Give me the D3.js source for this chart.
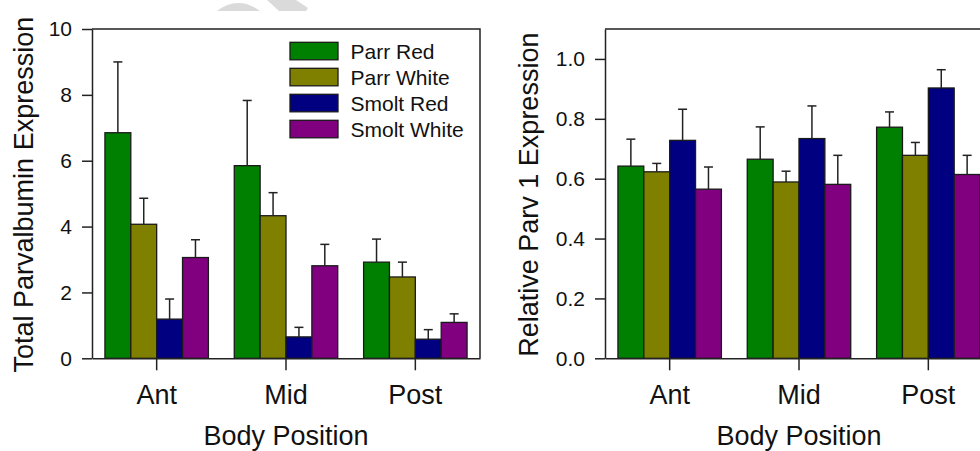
<!DOCTYPE html>
<html><head><meta charset="utf-8">
<script src="https://cdn.jsdelivr.net/npm/d3@7"></script>
<style>
body{margin:0;background:#fff}
text{font-family:"Liberation Sans",Arial,sans-serif;fill:#111}
</style>
</head><body>
<svg id="c" width="980" height="451"></svg>
<script>
// ---- data ----
const positions = ["Ant", "Mid", "Post"];
const groups = ["Parr Red", "Parr White", "Smolt Red", "Smolt White"];
const colors = ["#008000", "#808000", "#000080", "#800080"];

// Total parvalbumin expression (mean, SE) per position, per group
const totalMean = [[6.85, 4.07, 1.19, 3.06], [5.85, 4.33, 0.65, 2.81], [2.92, 2.47, 0.58, 1.09]];
const totalSE   = [[2.15, 0.79, 0.61, 0.54], [1.98, 0.70, 0.29, 0.65], [0.70, 0.45, 0.29, 0.26]];
const totalTicks = [0, 2, 4, 6, 8, 10];

// Relative Parv 1 expression
const parvMean = [[0.642, 0.623, 0.728, 0.565], [0.665, 0.589, 0.734, 0.581], [0.772, 0.678, 0.903, 0.614]];
const parvSE   = [[0.090, 0.028, 0.104, 0.074], [0.108, 0.036, 0.109, 0.097], [0.051, 0.043, 0.061, 0.064]];
const parvTicks = [0, 0.2, 0.4, 0.6, 0.8, 1.0];

const svg = d3.select("#c");

// faint watermark remnants at top
svg.append("path").attr("d", "M217,11 Q238,-5 260,11 Z").attr("fill", "#dadada");
svg.append("path").attr("d", "M267,0 L296,0 L308,8 L306,11 L279,11 Z").attr("fill", "#dadada");

function panel(ox, means, ses, yMax, ticks, fmt, title, titleX, legend) {
  const top = 29, bottom = 358.3, width = 388;
  const g = svg.append("g");
  const x0 = d3.scaleBand().domain(positions).range([ox, ox + width]).padding(0);
  const x1 = d3.scaleBand().domain(groups).range([x0.bandwidth() * 0.1, x0.bandwidth() * 0.9]).padding(0);
  const y = d3.scaleLinear().domain([0, yMax]).range([bottom, top]);

  const rows = [];
  positions.forEach((p, i) => groups.forEach((s, j) => rows.push({p, s, j, v: means[i][j], e: ses[i][j]})));

  g.selectAll("rect.bar").data(rows).join("rect")
    .attr("x", d => x0(d.p) + x1(d.s))
    .attr("width", x1.bandwidth())
    .attr("y", d => y(d.v))
    .attr("height", d => y(0) - y(d.v))
    .attr("fill", d => colors[d.j])
    .attr("stroke", "#1a1a1a").attr("stroke-width", 1.3);

  const cx = d => x0(d.p) + x1(d.s) + x1.bandwidth() / 2;
  g.selectAll("line.err").data(rows).join("line")
    .attr("x1", cx).attr("x2", cx)
    .attr("y1", d => y(d.v)).attr("y2", d => y(d.v + d.e))
    .attr("stroke", "#222").attr("stroke-width", 1.5);
  g.selectAll("line.cap").data(rows).join("line")
    .attr("x1", d => cx(d) - 4.5).attr("x2", d => cx(d) + 4.5)
    .attr("y1", d => y(d.v + d.e)).attr("y2", d => y(d.v + d.e))
    .attr("stroke", "#222").attr("stroke-width", 1.5);

  // frame (top & right)
  g.append("path")
    .attr("d", `M${ox},${top}H${ox + width}V${bottom}`)
    .attr("fill", "none").attr("stroke", "#222").attr("stroke-width", 1.5);

  const ya = g.append("g").attr("transform", `translate(${ox},0)`)
    .call(d3.axisLeft(y).tickValues(ticks).tickFormat(fmt).tickSize(10).tickSizeOuter(0).tickPadding(10));
  ya.select(".domain").attr("stroke", "#222").attr("stroke-width", 1.5);
  ya.selectAll(".tick line").attr("stroke", "#222").attr("stroke-width", 1.5);
  ya.selectAll(".tick text").style("font-size", "21px").style("font-family", "Liberation Sans, Arial, sans-serif").attr("fill", "#111");

  const xa = g.append("g").attr("transform", `translate(0,${bottom})`)
    .call(d3.axisBottom(x0).tickSize(12).tickSizeOuter(0).tickPadding(15));
  xa.select(".domain").attr("stroke", "#222").attr("stroke-width", 1.5);
  xa.selectAll(".tick line").attr("stroke", "#222").attr("stroke-width", 1.5);
  xa.selectAll(".tick text").style("font-size", "27px").style("font-family", "Liberation Sans, Arial, sans-serif").attr("fill", "#111");

  g.append("text").attr("x", ox + width / 2).attr("y", 445).attr("text-anchor", "middle")
    .style("font-size", "27px").text("Body Position");
  g.append("text").attr("transform", `translate(${titleX},${(top + bottom) / 2 + 1}) rotate(-90)`)
    .attr("text-anchor", "middle").style("font-size", "27px").text(title);

  if (legend) {
    const lg = g.append("g");
    groups.forEach((s, j) => {
      lg.append("rect").attr("x", 290).attr("y", 42.3 + j * 26).attr("width", 48).attr("height", 17.5)
        .attr("fill", colors[j]).attr("stroke", "#1a1a1a").attr("stroke-width", 1.3);
      lg.append("text").attr("x", 350.5).attr("y", 58.5 + j * 26).style("font-size", "21px").text(s);
    });
  }
}

panel(92, totalMean, totalSE, 10, totalTicks, d3.format("d"), "Total Parvalbumin Expression", 33, true);
panel(605, parvMean, parvSE, 1.1, parvTicks, d3.format(".1f"), "Relative Parv 1 Expression", 538, false);
</script>
</body></html>
